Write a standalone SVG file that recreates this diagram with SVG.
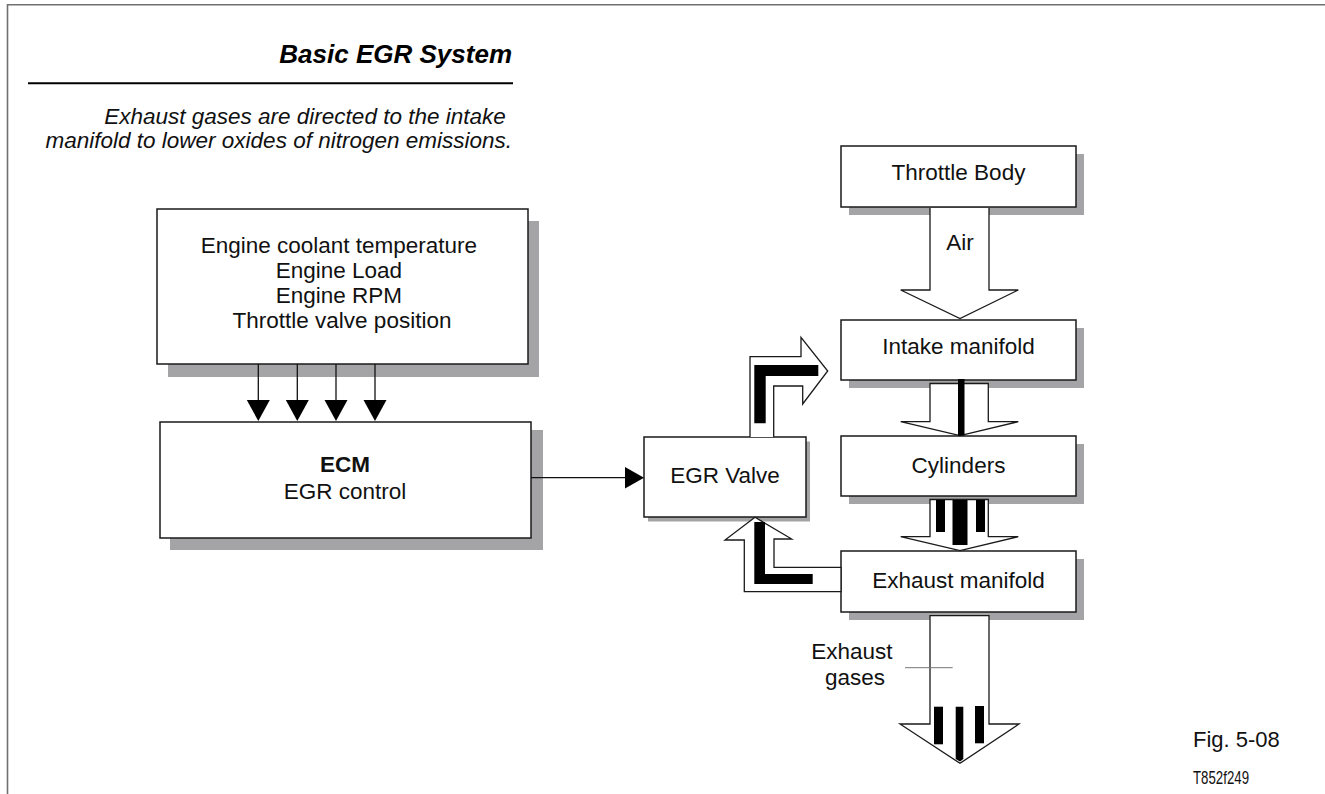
<svg xmlns="http://www.w3.org/2000/svg" width="1325" height="794" viewBox="0 0 1325 794">
  <style>
    .frame { fill: none; stroke: #707070; stroke-width: 1.6; }
    .box { fill: #ffffff; stroke: #1a1a1a; stroke-width: 1.5; }
    .shadow { fill: #a4a4a6; stroke: none; }
    .txt { font-family: "Liberation Sans", Arial, Helvetica, sans-serif; font-size: 22.5px; fill: #111; text-anchor: middle; }
    .bold { font-weight: bold; }
    .flow { fill: #ffffff; stroke: #1a1a1a; stroke-width: 1.3; stroke-linejoin: miter; }
    .bar { fill: #000000; stroke: none; }
    .wire { stroke: #111; stroke-width: 1.3; fill: none; }
    .head { fill: #000; stroke: none; }
  </style>
  <defs>
    <marker id="tri" viewBox="0 0 10 10" refX="10" refY="5" markerWidth="10" markerHeight="10" markerUnits="userSpaceOnUse" orient="auto">
      <path d="M0,0 L10,5 L0,10 Z" fill="#000"/>
    </marker>
  </defs>

  <rect width="1325" height="794" fill="#ffffff"/>

  <!-- page frame -->
  <path class="frame" d="M7.5,794 V4.7 H1325"/>

  <!-- heading -->
  <g id="heading">
    <text x="512" y="63" font-family="'Liberation Sans', Arial, sans-serif" font-size="26" font-weight="bold" font-style="italic" text-anchor="end" fill="#000">Basic EGR System</text>
    <line x1="28" y1="83.3" x2="513" y2="83.3" stroke="#000" stroke-width="2"/>
    <text font-family="'Liberation Sans', Arial, sans-serif" font-size="22.5" font-style="italic" text-anchor="end" fill="#111">
      <tspan x="512" y="124">Exhaust gases are directed to the intake</tspan>
      <tspan x="512" y="148">manifold to lower oxides of nitrogen emissions.</tspan>
    </text>
  </g>

  <!-- sensor inputs -->
  <g id="sensors">
    <rect class="shadow" x="168" y="221" width="371" height="156"/>
    <rect class="box" x="157" y="209" width="371" height="155"/>
    <text class="txt">
      <tspan x="342" y="253">Engine coolant temperature</tspan>
      <tspan x="342" y="278">Engine Load</tspan>
      <tspan x="342" y="303">Engine RPM</tspan>
      <tspan x="342" y="328">Throttle valve position</tspan>
    </text>
  </g>

  <!-- engine control module -->
  <g id="ecm">
    <rect class="shadow" x="170" y="430" width="373" height="120"/>
    <rect class="box" x="160" y="422" width="371" height="116"/>
    <text class="txt bold" x="345" y="472">ECM</text>
    <text class="txt" x="345" y="499">EGR control</text>
  </g>

  <!-- EGR valve -->
  <g id="egr-valve">
    <rect class="shadow" x="648" y="441.5" width="162" height="80"/>
    <rect class="box" x="644" y="437" width="162" height="80"/>
    <text class="txt" x="725" y="483">EGR Valve</text>
  </g>

  <!-- throttle body -->
  <g id="throttle-body">
    <rect class="shadow" x="849" y="154" width="235" height="61"/>
    <rect class="box" x="841" y="146" width="235" height="61"/>
    <text class="txt" x="958.5" y="180">Throttle Body</text>
  </g>

  <!-- intake manifold -->
  <g id="intake-manifold">
    <rect class="shadow" x="849" y="328" width="235" height="60"/>
    <rect class="box" x="841" y="320" width="235" height="60"/>
    <text class="txt" x="958.5" y="354">Intake manifold</text>
  </g>

  <!-- cylinders -->
  <g id="cylinders">
    <rect class="shadow" x="849" y="444" width="235" height="60"/>
    <rect class="box" x="841" y="436" width="235" height="60"/>
    <text class="txt" x="958.5" y="473">Cylinders</text>
  </g>

  <!-- exhaust manifold -->
  <g id="exhaust-manifold">
    <rect class="shadow" x="849" y="559" width="235" height="61"/>
    <rect class="box" x="841" y="551" width="235" height="61"/>
    <text class="txt" x="958.5" y="588">Exhaust manifold</text>
  </g>

  <!-- signal lines and gas flows -->
  <g id="connectors">
    <!-- sensor signals into ECM -->
    <line class="wire" x1="258.3" y1="364" x2="258.3" y2="402"/>
    <line class="wire" x1="297.3" y1="364" x2="297.3" y2="402"/>
    <line class="wire" x1="336" y1="364" x2="336" y2="402"/>
    <line class="wire" x1="375" y1="364" x2="375" y2="402"/>
    <path class="head" d="M246.8,400 H269.8 L258.3,421 Z"/>
    <path class="head" d="M285.8,400 H308.8 L297.3,421 Z"/>
    <path class="head" d="M324.5,400 H347.5 L336,421 Z"/>
    <path class="head" d="M363.5,400 H386.5 L375,421 Z"/>

    <!-- ECM control signal to EGR valve -->
    <line class="wire" x1="531" y1="477.7" x2="627" y2="477.7"/>
    <path class="head" d="M625,467 L644,477.7 L625,488.5 Z"/>

    <!-- air from throttle body -->
    <path class="flow" d="M930,208 V290 H900.7 L960,318.5 L1018.3,290 H989 V208"/>
    <text class="txt" x="960" y="250">Air</text>

    <!-- intake manifold to cylinders -->
    <path class="flow" d="M930,383.5 V421.7 H900.7 L960,435.7 L1018.3,421.7 H988.3 V383.5 Z"/>
    <rect class="bar" x="958" y="379" width="6.5" height="56.5"/>

    <!-- cylinders to exhaust manifold -->
    <path class="flow" d="M930,499.5 V536.7 H900.7 L960,550.7 L1018.3,536.7 H988.3 V499.5 Z"/>
    <rect class="bar" x="936" y="500" width="9" height="32"/>
    <rect class="bar" x="952.5" y="500" width="15" height="45"/>
    <rect class="bar" x="976" y="500" width="9" height="32"/>

    <!-- recirculated exhaust: exhaust manifold to EGR valve -->
    <path class="flow" d="M755,517.3 L791.7,539 H774 V567.3 H841 V591.7 H744.3 V540 H725 Z"/>
    <path class="bar" d="M754.3,522 H765 V574 H812.7 V584 H754.3 Z"/>

    <!-- recirculated exhaust: EGR valve to intake manifold -->
    <path class="flow" d="M750,437 V356.7 H801 V337.3 L827.7,371 L802.7,404 V386 H773.7 V437"/>
    <path class="bar" d="M754.3,365 H818.3 V376 H765.7 V423.3 H754.3 Z"/>

    <!-- exhaust gases out -->
    <path class="flow" d="M930,615.7 V724 H900 L960,763.3 L1019,724 H989 V615.7 Z"/>
    <rect class="bar" x="934" y="706.7" width="9" height="37.6"/>
    <path class="bar" d="M955.7,706.7 H963.3 V759 L960,761.5 L955.7,759 Z"/>
    <rect class="bar" x="975" y="706" width="9" height="37.3"/>
    <line x1="905" y1="667.7" x2="952.7" y2="667.7" stroke="#777" stroke-width="1"/>
    <text class="txt">
      <tspan x="855" y="659">Exhaust</tspan>
      <tspan x="855" y="685">gases</tspan>
    </text>
  </g>

  <!-- figure reference -->
  <g id="figure-ref">
    <text x="1193" y="747" font-family="'Liberation Sans', Arial, sans-serif" font-size="22" fill="#111">Fig. 5-08</text>
    <text x="1193" y="784" font-family="'Liberation Sans', Arial, sans-serif" font-size="18" fill="#111" textLength="56" lengthAdjust="spacingAndGlyphs">T852f249</text>
  </g>
</svg>
